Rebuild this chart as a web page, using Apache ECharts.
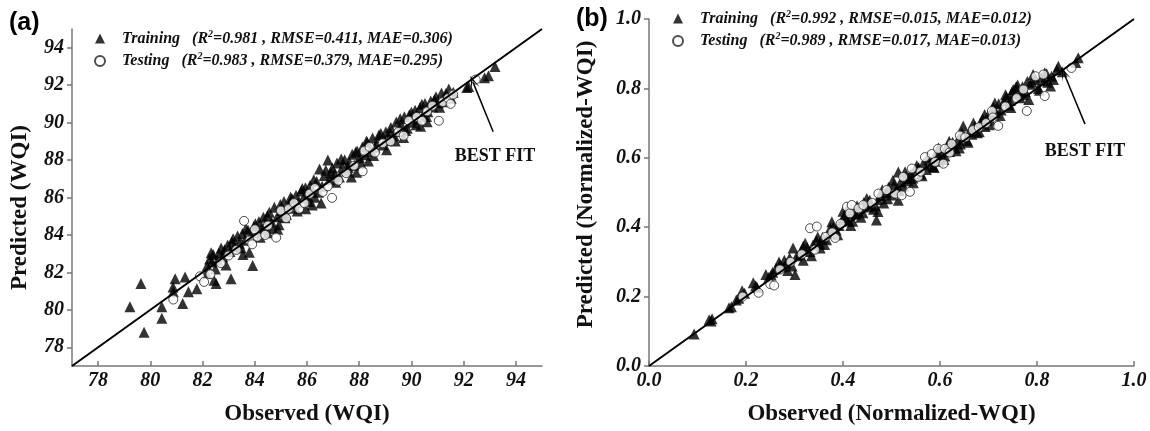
<!DOCTYPE html>
<html>
<head>
<meta charset="utf-8">
<script src="https://cdn.jsdelivr.net/npm/echarts@6/dist/echarts.min.js"></script>
<style>
html,body{margin:0;padding:0;background:#fff}
#main{width:1150px;height:431px}
</style>
</head>
<body>
<div id="main"></div>
<script>
// tick values on the axes
var ticksA = [78, 80, 82, 84, 86, 88, 90, 92, 94];
var ticksB = [0, 0.2, 0.4, 0.6, 0.8, 1.0];

// 1:1 best fit lines
var fitA = [[77, 77], [95, 95]];
var fitB = [[0, 0], [1, 1]];

// legend statistics  [R2, RMSE, MAE]
var statTrainA = ['0.981', '0.411', '0.306'];
var statTestA  = ['0.983', '0.379', '0.295'];
var statTrainB = ['0.992', '0.015', '0.012'];
var statTestB  = ['0.989', '0.017', '0.013'];

// (a) observed / predicted WQI
var trainA = [
  [79.22,80.17],[79.64,81.40],[79.76,78.80],[80.44,80.17],[80.44,79.55],[80.95,81.66],[80.87,81.22],[80.88,80.96],
  [81.33,81.75],[81.24,80.34],[81.46,80.96],[81.78,81.13],[82.44,81.58],[82.52,81.40],[83.09,81.66],[83.92,82.37],[83.79,83.07],
  [82.18,82.35],[82.27,82.71],[82.36,82.55],[82.41,82.95],[82.49,82.18],[82.58,82.66],[82.63,83.02],[82.77,82.84],[82.84,83.21],
  [82.96,83.46],[83.05,83.12],[83.17,83.80],[83.22,83.38],[83.34,83.95],[83.41,83.55],[83.53,84.08],[83.62,83.71],[83.74,84.25],
  [83.86,83.92],[83.97,84.46],[84.08,84.10],[84.16,84.72],[84.25,84.31],[84.33,84.95],[84.41,84.52],[84.56,85.21],[84.64,84.69],
  [84.75,85.48],[84.86,84.97],[84.93,84.55],[85.04,85.30],[85.12,85.78],[85.21,85.10],[85.33,85.63],[85.42,85.95],[85.51,85.42],
  [85.58,86.12],[85.67,85.71],[85.78,86.35],[85.86,85.96],[85.94,86.52],[86.03,86.08],[86.12,86.66],[86.21,86.29],[86.30,86.02],
  [86.37,86.85],[86.48,87.52],[86.54,85.70],[86.58,86.60],[86.66,87.18],[86.80,88.00],[86.86,86.95],[86.97,87.58],[87.06,87.27],
  [87.15,87.84],[87.24,87.10],[87.36,87.62],[87.44,88.02],[87.53,87.41],[87.62,87.90],[87.73,88.31],[87.81,87.72],[87.92,88.48],
  [88.01,88.12],[88.12,88.70],[88.23,88.28],[88.31,88.94],[88.42,88.46],[88.51,89.18],[88.60,88.69],[88.72,89.02],[88.83,89.42],
  [88.91,88.80],[89.02,89.51],[89.13,89.10],[89.21,89.74],[89.34,89.28],[89.42,90.03],[89.53,89.52],[89.61,89.88],[89.73,90.31],
  [89.84,89.70],[89.92,90.42],[90.03,90.02],[90.14,90.66],[90.22,90.18],[90.33,90.81],[90.45,90.40],[90.52,91.02],[90.63,90.58],
  [90.74,91.16],[90.82,90.84],[90.94,91.38],[91.03,91.05],[91.15,91.58],[91.26,91.12],[91.43,91.80],[91.52,91.30],
  [92.12,91.87],[92.19,91.93],[92.80,92.40],[92.95,92.50],[93.20,93.00],
  [85.95,85.40],[84.50,84.12],[88.35,87.95],[89.70,89.20],[90.60,90.05],[87.90,87.35],
  [82.33,83.05],[82.71,83.30],[83.12,83.62],[83.48,83.30],[83.66,84.35],[84.02,84.60],[84.21,83.88],[84.48,85.02],
  [84.70,84.35],[84.98,85.62],[85.16,84.92],[85.37,86.02],[85.63,85.28],[85.82,86.48],[86.07,85.78],[86.26,86.95],
  [86.44,86.28],[86.72,87.45],[86.92,87.32],[87.10,86.82],[87.31,88.05],[87.58,87.62],[87.86,88.42],[88.07,87.82],
  [88.28,89.02],[88.55,88.25],[88.76,89.35],[88.98,89.05],[89.18,89.48],[89.38,89.02],[89.57,90.20],[89.78,89.58],
  [90.00,90.55],[90.18,89.88],[90.40,90.98],[90.58,90.32],[90.88,91.22],[91.08,90.82],[91.32,91.55],[91.60,91.62],
  [83.55,82.95],[84.88,84.30],[86.20,85.60],[87.70,87.10],[89.05,88.55],[90.35,89.80],[82.15,81.95],[82.90,82.40]
];
var testA = [
  [80.88,80.55],[81.90,81.79],[82.06,81.49],[82.30,81.90],[82.70,82.50],[83.00,82.90],[83.30,83.20],[83.59,84.75],
  [83.80,83.70],[84.10,83.90],[84.40,84.00],[84.50,84.50],[84.82,83.86],[85.00,85.30],[85.30,85.40],[85.50,85.70],
  [85.70,85.40],[85.90,85.70],[86.10,86.20],[86.30,86.50],[86.60,86.30],[86.96,85.98],[86.80,86.60],[87.20,86.90],
  [87.50,87.30],[87.80,87.70],[88.13,87.40],[88.20,88.50],[88.40,88.70],[88.60,88.40],[88.90,88.90],[89.20,89.00],
  [89.50,89.50],[89.70,89.30],[89.90,90.10],[90.20,90.30],[90.40,90.10],[90.60,90.60],[90.80,90.90],[91.05,90.10],
  [91.20,91.10],[91.40,91.30],[91.60,91.50],[91.50,91.00],[92.46,92.30],[84.00,84.30],[85.20,84.90],[83.90,83.50]
];

// (b) observed / predicted normalized WQI
var trainB = [
  [0.093,0.092],[0.124,0.133],[0.130,0.136],[0.128,0.130],[0.165,0.168],[0.170,0.171],[0.180,0.190],[0.185,0.195],
  [0.192,0.217],[0.197,0.210],[0.215,0.240],[0.220,0.231],[0.223,0.226],[0.241,0.264],[0.247,0.256],[0.255,0.270],
  [0.262,0.281],[0.268,0.300],[0.270,0.292],[0.276,0.285],[0.283,0.296],[0.286,0.275],[0.290,0.311],[0.297,0.340],
  [0.301,0.264],[0.305,0.318],[0.311,0.321],[0.315,0.332],[0.322,0.354],[0.326,0.341],[0.332,0.330],[0.338,0.348],
  [0.345,0.362],[0.352,0.352],[0.353,0.340],[0.358,0.371],[0.366,0.364],[0.372,0.383],[0.377,0.416],[0.380,0.400],
  [0.386,0.392],[0.392,0.405],[0.398,0.420],[0.400,0.446],[0.405,0.428],[0.408,0.449],[0.412,0.418],[0.418,0.440],
  [0.420,0.417],[0.426,0.437],[0.431,0.448],[0.437,0.429],[0.443,0.471],[0.449,0.483],[0.452,0.458],[0.458,0.466],
  [0.463,0.452],[0.469,0.421],[0.472,0.480],[0.478,0.491],[0.484,0.470],[0.489,0.500],[0.494,0.515],[0.500,0.493],
  [0.505,0.522],[0.510,0.508],[0.514,0.559],[0.514,0.478],[0.519,0.530],[0.525,0.518],[0.530,0.546],[0.534,0.534],
  [0.540,0.555],[0.544,0.542],[0.545,0.528],[0.550,0.566],[0.556,0.572],[0.561,0.553],[0.566,0.585],[0.572,0.566],
  [0.577,0.594],[0.582,0.580],[0.588,0.604],[0.593,0.612],[0.598,0.590],[0.600,0.598],[0.604,0.620],[0.610,0.605],
  [0.615,0.632],[0.620,0.618],[0.626,0.645],[0.631,0.628],[0.637,0.652],[0.642,0.640],[0.648,0.692],[0.650,0.662],
  [0.656,0.650],[0.661,0.675],[0.666,0.668],[0.672,0.690],[0.677,0.672],[0.683,0.700],[0.688,0.712],[0.693,0.690],
  [0.699,0.722],[0.704,0.708],[0.706,0.725],[0.710,0.745],[0.715,0.730],[0.721,0.756],[0.726,0.738],[0.732,0.762],
  [0.737,0.775],[0.742,0.752],[0.745,0.765],[0.748,0.788],[0.751,0.797],[0.755,0.783],[0.760,0.810],[0.765,0.773],
  [0.768,0.795],[0.770,0.805],[0.776,0.790],[0.780,0.820],[0.783,0.768],[0.786,0.812],[0.792,0.840],[0.797,0.826],
  [0.803,0.800],[0.808,0.832],[0.815,0.822],[0.816,0.845],[0.822,0.818],[0.828,0.807],[0.834,0.826],[0.841,0.854],
  [0.844,0.864],[0.880,0.875],[0.885,0.888],
  [0.252,0.262],[0.279,0.305],[0.295,0.288],[0.318,0.345],[0.335,0.318],[0.348,0.372],[0.362,0.350],[0.374,0.398],
  [0.389,0.378],[0.403,0.432],[0.416,0.405],[0.429,0.462],[0.441,0.442],[0.455,0.478],[0.467,0.462],[0.481,0.508],
  [0.492,0.482],[0.503,0.535],[0.517,0.505],[0.528,0.560],[0.538,0.540],[0.552,0.578],[0.563,0.548],[0.575,0.602],
  [0.586,0.575],[0.597,0.628],[0.608,0.595],[0.619,0.648],[0.633,0.620],[0.645,0.672],[0.658,0.645],[0.669,0.700],
  [0.681,0.675],[0.692,0.725],[0.702,0.695],[0.713,0.758],[0.724,0.722],[0.735,0.782],[0.746,0.745],[0.757,0.805],
  [0.772,0.782],[0.790,0.818],[0.805,0.795],[0.820,0.842],[0.830,0.835],[0.852,0.848],[0.472,0.445],[0.588,0.572],
  [0.640,0.628],[0.318,0.305]
];
var testB = [
  [0.193,0.200],[0.226,0.211],[0.250,0.236],[0.258,0.232],[0.270,0.278],[0.292,0.300],[0.315,0.322],[0.342,0.335],
  [0.332,0.397],[0.346,0.402],[0.364,0.372],[0.378,0.385],[0.384,0.369],[0.395,0.410],[0.408,0.459],[0.414,0.440],
  [0.418,0.464],[0.432,0.454],[0.442,0.464],[0.460,0.470],[0.473,0.497],[0.490,0.507],[0.507,0.497],[0.521,0.492],
  [0.538,0.502],[0.524,0.545],[0.542,0.569],[0.555,0.545],[0.560,0.560],[0.569,0.602],[0.583,0.611],[0.590,0.588],
  [0.607,0.583],[0.596,0.626],[0.610,0.626],[0.620,0.615],[0.624,0.640],[0.641,0.664],[0.652,0.659],[0.668,0.680],
  [0.680,0.688],[0.695,0.700],[0.707,0.735],[0.709,0.716],[0.720,0.692],[0.735,0.748],[0.758,0.772],[0.772,0.797],
  [0.779,0.735],[0.797,0.835],[0.813,0.840],[0.816,0.778],[0.871,0.859]
];

// arrow (tail, head) and "BEST FIT" label position, in data units
var arrowA = [[93.13, 89.51], [92.36, 92.15]];
var arrowB = [[0.899, 0.697], [0.856, 0.842]];
var labelA = [93.2, 88.19];
var labelB = [0.899, 0.62];

var serif = "'Liberation Serif','Times New Roman',serif";
var myChart = echarts.init(document.getElementById('main'));

function legendText(label, s) {
    return '{p|' + label + '}   (R{s|2}=' + s[0] + ' , RMSE=' + s[1] + ', MAE=' + s[2] + ')';
}
var legendNames = {
    trainA: legendText('Training', statTrainA),
    testA: legendText('Testing', statTestA),
    trainB: legendText('Training', statTrainB),
    testB: legendText('Testing', statTestB)
};

function legend(left, top, names) {
    return {
        orient: 'vertical', left: left, top: top,
        itemWidth: 10, itemHeight: 10, itemGap: 5,
        selectedMode: false,
        data: [{name: names[0], icon: 'triangle'}, {name: names[1], icon: 'circle'}],
        formatter: function (n) { return legendNames[n]; },
        textStyle: {
            fontFamily: serif, fontStyle: 'italic', fontWeight: 'bold', fontSize: 16, color: '#111',
            rich: {
                p: {fontFamily: serif, fontStyle: 'italic', fontWeight: 'bold', fontSize: 16, color: '#111', padding: [0, 0, 0, 12]},
                s: {fontFamily: serif, fontStyle: 'italic', fontWeight: 'bold', fontSize: 10, color: '#111', padding: [0, 0, 9, 0]}
            }
        }
    };
}

function axis(grid, min, max, ticks, name, gap, nameGap, isY, fmt, namePad) {
    return {
        type: 'value', gridIndex: grid, min: min, max: max,
        name: name, nameLocation: 'middle', nameGap: nameGap,
        nameTextStyle: {fontFamily: serif, fontWeight: 'bold', fontSize: 23, color: '#111', padding: namePad || 0},
        splitLine: {show: false},
        axisLine: {show: true, onZero: false, lineStyle: {color: '#777', width: 1.5}},
        axisTick: {show: true, inside: !isY, length: 5, customValues: ticks, lineStyle: {color: '#777', width: 1.5}},
        axisLabel: {
            customValues: ticks, margin: gap, color: '#111',
            fontFamily: serif, fontStyle: 'italic', fontWeight: 'bold', fontSize: 20,
            formatter: fmt
        }
    };
}

var arrowHead = 'path://M0,0 L5,14 L0,5 L-5,14 Z';

function fitSeries(name, data, xi, arrow, label) {
    return {
        name: name, type: 'line', xAxisIndex: xi, yAxisIndex: xi,
        data: data, symbol: 'none', silent: true, z: 5,
        lineStyle: {color: '#000', width: 2},
        markLine: {
            silent: true, symbol: ['none', arrowHead], symbolSize: [9, 14],
            lineStyle: {color: '#000', width: 1.5, type: 'solid'},
            label: {show: false},
            data: [[{coord: arrow[0]}, {coord: arrow[1]}]]
        },
        markPoint: {
            silent: true, symbol: 'rect', symbolSize: 1,
            itemStyle: {color: 'rgba(0,0,0,0)'},
            label: {show: true, position: 'inside', formatter: 'BEST FIT',
                fontFamily: serif, fontWeight: 'bold', fontSize: 18, color: '#111'},
            data: [{coord: label}]
        }
    };
}

function scatter(name, data, xi, tri) {
    return {
        name: name, type: 'scatter', xAxisIndex: xi, yAxisIndex: xi, data: data,
        symbol: tri ? 'triangle' : 'circle', symbolSize: tri ? 11 : 9,
        itemStyle: tri ? {color: '#000'} : {color: '#fff', borderColor: '#222', borderWidth: 1},
        z: tri ? 2 : 3
    };
}

var fmtA = function (v) { return v; };
var fmtB = function (v) { return v.toFixed(1); };

var option = {
    backgroundColor: '#fff',
    animation: false,
    grid: [
        {left: 72, top: 29, width: 470, height: 341},
        {left: 649, top: 19, width: 485, height: 350}
    ],
    xAxis: [
        axis(0, 77, 95, ticksA, 'Observed (WQI)', 5, 37, false, fmtA),
        axis(1, 0, 1, ticksB, 'Observed (Normalized-WQI)', 5, 37, false, fmtB)
    ],
    yAxis: [
        axis(0, 77, 95, ticksA, 'Predicted (WQI)', 8, 40, true, fmtA, [0, 20, 0, 0]),
        axis(1, 0, 1, ticksB, 'Predicted (Normalized-WQI)', 8, 51, true, fmtB, [0, 0, 0, 16])
    ],
    legend: [
        legend(89, 24, ['trainA', 'testA']),
        legend(667, 4, ['trainB', 'testB'])
    ],
    graphic: [
        {type: 'text', left: 9, top: 11, style: {text: '(a)', font: 'bold 25px "Liberation Sans", Arial, sans-serif', fill: '#000'}},
        {type: 'text', left: 576, top: 7, style: {text: '(b)', font: 'bold 25px "Liberation Sans", Arial, sans-serif', fill: '#000'}}
    ],
    series: [
        scatter('trainA', trainA, 0, true),
        scatter('testA', testA, 0, false),
        fitSeries('fitA', fitA, 0, arrowA, labelA),
        scatter('trainB', trainB, 1, true),
        scatter('testB', testB, 1, false),
        fitSeries('fitB', fitB, 1, arrowB, labelB)
    ]
};

myChart.setOption(option);
window.addEventListener('resize', function () { myChart.resize(); });
</script>
</body>
</html>
